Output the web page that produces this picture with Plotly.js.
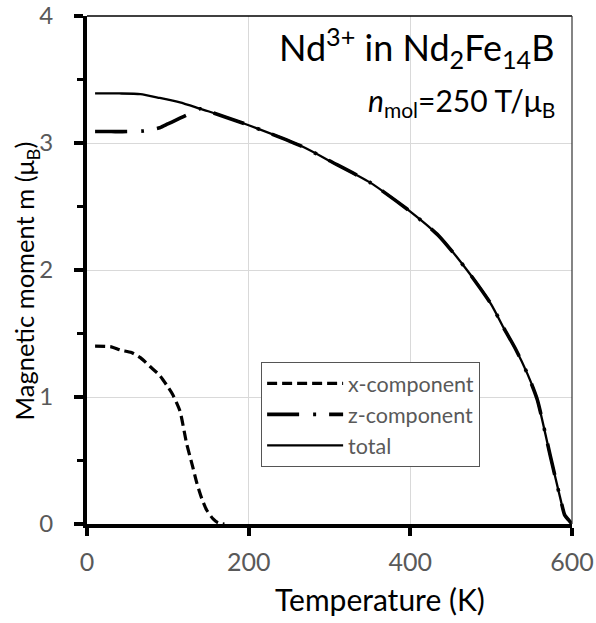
<!DOCTYPE html>
<html>
<head>
<meta charset="utf-8">
<script src="https://cdn.plot.ly/plotly-3.0.1.min.js"></script>
<style>html,body{margin:0;padding:0;background:#fff}#plot{width:596px;height:623px}</style>
</head>
<body>
<div id="plot"></div>
<script>
// Temperature (K) and magnetic moment (μB)
const T_total = [10, 40, 66, 90, 115, 140, 150, 200, 267, 300, 350, 400, 435, 470, 500, 515, 530, 545, 557, 573, 580, 586, 591, 596, 600];
const m_total = [3.39, 3.39, 3.385, 3.355, 3.32, 3.27, 3.25, 3.14, 2.97, 2.86, 2.69, 2.46, 2.27, 2.0, 1.73, 1.55, 1.38, 1.18, 0.98, 0.54, 0.35, 0.19, 0.07, 0.03, 0];

const T_z = [10, 30, 50, 70, 90, 100, 110, 120, 130, 140, 150, 200, 267, 300, 350, 400, 435, 470, 500, 515, 530, 545, 557, 573, 580, 586, 591, 596, 600];
const m_z = [3.09, 3.09, 3.09, 3.095, 3.12, 3.15, 3.18, 3.21, 3.24, 3.27, 3.25, 3.14, 2.97, 2.86, 2.69, 2.46, 2.27, 2.0, 1.73, 1.55, 1.38, 1.18, 0.98, 0.54, 0.35, 0.19, 0.07, 0.03, 0];

const T_x = [10, 30, 41, 55, 66, 78, 90, 100, 106, 115, 123, 130, 136, 142, 148, 156, 162, 170];
const m_x = [1.40, 1.395, 1.37, 1.35, 1.31, 1.24, 1.17, 1.08, 1.02, 0.89, 0.64, 0.47, 0.32, 0.2, 0.11, 0.04, 0.01, 0];

const seriesNames = ["x-component", "z-component", "total"];
const xTicks = [0, 200, 400, 600];
const yTicks = [0, 1, 2, 3, 4];
const xTitle = "Temperature (K)";
const yTitle = "Magnetic moment m (μ<sub>B</sub>)";

const FONT = "Lato, 'Open Sans', sans-serif";
const GRAY = "#595959";

const traces = [
  {x: T_x, y: m_x, name: seriesNames[0], mode: "lines",
   line: {color: "black", width: 3.2, dash: "10px,5px", shape: "spline", smoothing: 0.6}},
  {x: T_z, y: m_z, name: seriesNames[1], mode: "lines",
   line: {color: "black", width: 3.6, dash: "32px,14px,3px,13px", shape: "spline", smoothing: 0.6}},
  {x: T_total, y: m_total, name: seriesNames[2], mode: "lines",
   line: {color: "black", width: 2.3, shape: "spline", smoothing: 0.6}}
];

const layout = {
  width: 596, height: 623,
  margin: {l: 87, r: 24, t: 16, b: 99},
  paper_bgcolor: "white", plot_bgcolor: "white",
  font: {family: FONT, color: GRAY},
  showlegend: true,
  legend: {
    x: 0.359, y: 0.319, xanchor: "left", yanchor: "top",
    bgcolor: "white", bordercolor: "#555", borderwidth: 1,
    font: {family: FONT, size: 21.5, color: GRAY},
    itemwidth: 76, traceorder: "normal"
  },
  xaxis: {
    range: [0, 600], tickvals: xTicks, ticktext: xTicks.map(String),
    showgrid: true, gridcolor: "#d9d9d9", gridwidth: 1,
    showline: true, linecolor: "black", linewidth: 4,
    ticks: "outside", ticklen: 8, tickwidth: 4, tickcolor: "black",
    tickfont: {family: FONT, size: 25, color: GRAY},
    ticklabelstandoff: 5,
    zeroline: false
  },
  yaxis: {
    range: [0, 4], tickvals: yTicks, ticktext: yTicks.map(String),
    showgrid: true, gridcolor: "#d9d9d9", gridwidth: 1,
    showline: true, linecolor: "black", linewidth: 4,
    ticks: "outside", ticklen: 9, tickwidth: 4, tickcolor: "black",
    minor: {dtick: 0.5, ticks: "outside", ticklen: 6, tickwidth: 3, tickcolor: "black", showgrid: false},
    tickfont: {family: FONT, size: 24, color: GRAY},
    ticklabelstandoff: 16,
    zeroline: false
  },
  shapes: [
    {type: "line", xref: "paper", yref: "paper", x0: 0, x1: 1, y0: 1, y1: 1, line: {color: "black", width: 1.5}},
    {type: "line", xref: "paper", yref: "paper", x0: 1, x1: 1, y0: 0, y1: 1, line: {color: "#333", width: 1.2}}
  ],
  annotations: [
    {xref: "paper", yref: "paper", x: 0.97, y: 0.995, xanchor: "right", yanchor: "top", showarrow: false,
     text: "Nd<sup>3+</sup> in Nd<sub>2</sub>Fe<sub>14</sub>B", font: {family: FONT, size: 36, color: "black"}},
    {xref: "paper", yref: "paper", x: 0.97, y: 0.875, xanchor: "right", yanchor: "top", showarrow: false,
     text: "<i>n</i><sub>mol</sub>=250 T/μ<sub>B</sub>", font: {family: FONT, size: 30, color: "black"}},
    {xref: "paper", yref: "paper", x: 0.604, y: -0.147, xanchor: "center", yanchor: "middle", showarrow: false,
     text: xTitle, font: {family: FONT, size: 30, color: "black"}},
    {xref: "paper", yref: "paper", x: -0.125, y: 0.478, xanchor: "center", yanchor: "middle", showarrow: false,
     textangle: -90, text: yTitle, font: {family: FONT, size: 25.5, color: "black"}}
  ]
};

Plotly.newPlot("plot", traces, layout, {displayModeBar: false, staticPlot: true});
</script>
</body>
</html>
